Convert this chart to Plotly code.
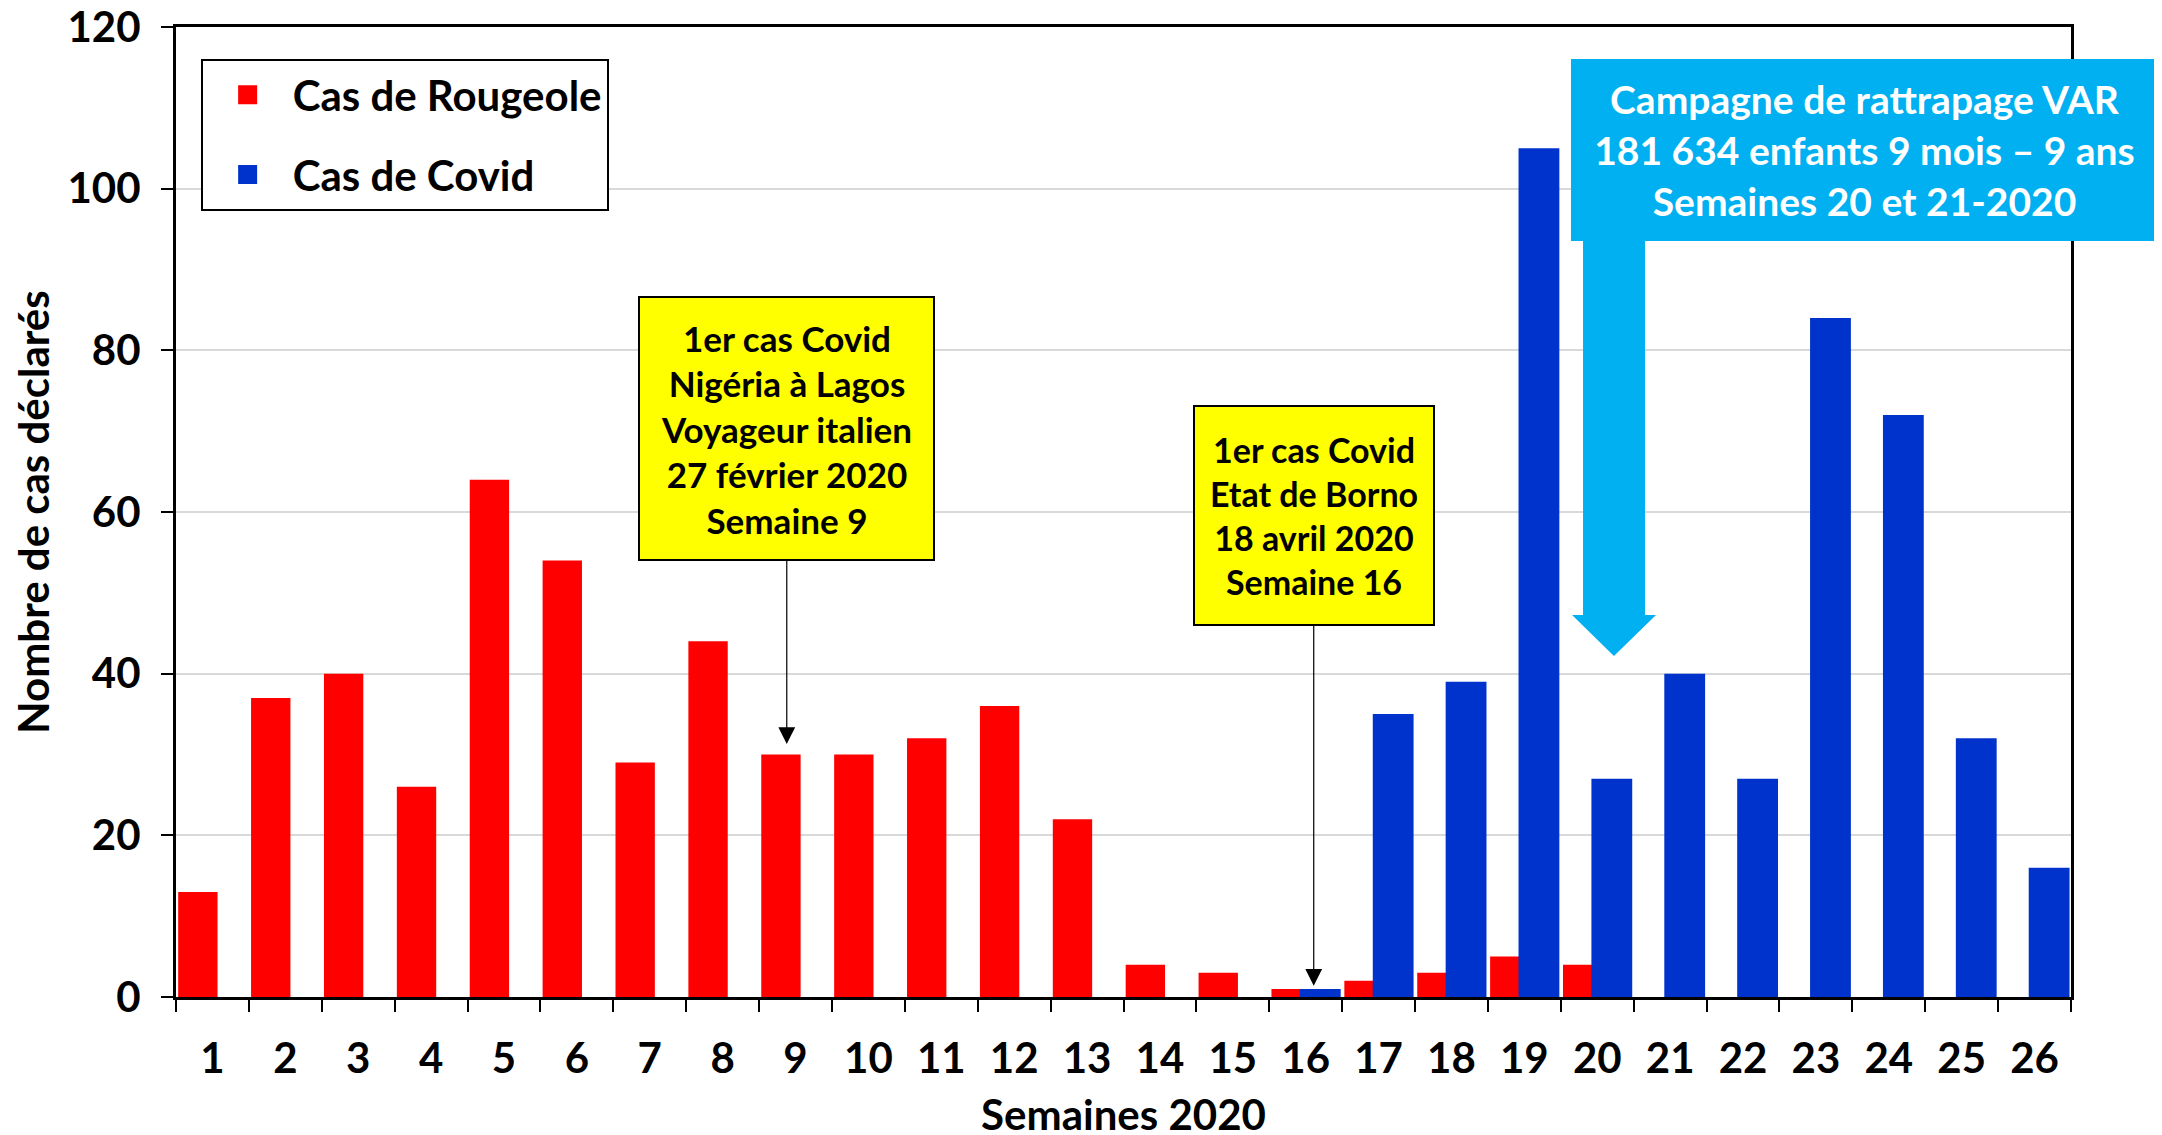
import plotly.graph_objects as go

weeks = [str(w) for w in range(1, 27)]
rougeole = [13, 37, 40, 26, 64, 54, 29, 44, 30, 30, 32, 36, 22,
            4, 3, 1, 2, 3, 5, 4, 0, 0, 0, 0, 0, 0]
covid = [0, 0, 0, 0, 0, 0, 0, 0, 0, 0, 0, 0, 0, 0, 0,
         1, 35, 39, 105, 27, 40, 27, 84, 72, 32, 16]
y_ticks = [0, 20, 40, 60, 80, 100, 120]

RED = '#FF0000'
BLUE = '#0033CC'
CYAN = '#00B0F0'
FONT = 'Lato'

fig = go.Figure()
fig.add_trace(go.Bar(x=weeks, y=rougeole, name='Cas de Rougeole',
                     marker=dict(color=RED, line_width=0),
                     offset=-0.47, width=0.54, showlegend=False))
fig.add_trace(go.Bar(x=weeks, y=covid, name='Cas de Covid',
                     marker=dict(color=BLUE, line_width=0),
                     offset=-0.08, width=0.56, showlegend=False))

# legend entries with bigger square swatches than the bar default
for name, color in [('Cas de Rougeole', RED), ('Cas de Covid', BLUE)]:
    fig.add_trace(go.Scatter(x=[None], y=[None], mode='markers', name=name,
                             legendgroup=name,
                             marker=dict(symbol='square', size=16, color=color,
                                         line=dict(color=color, width=3))))

box = dict(xref='x', yref='y', axref='pixel', ayref='pixel',
           showarrow=True, arrowhead=2, arrowsize=2.8, arrowwidth=1.2,
           arrowcolor='black', bgcolor='#FFFF00', bordercolor='black',
           borderwidth=2, borderpad=6, align='center', valign='middle')

# campaign arrow (paper coords), drawn under the cyan box
sl, sr, hl, hr, tip = 0.7425, 0.7752, 0.7367, 0.7810, 0.7588
ytop, ysb, ytip = 0.80, 0.3938, 0.3515
arrow_path = (f'M {sl},{ytop} L {sl},{ysb} L {hl},{ysb} L {tip},{ytip} '
              f'L {hr},{ysb} L {sr},{ysb} L {sr},{ytop} Z')

fig.update_layout(
    width=2162, height=1135,
    margin=dict(l=168, r=99, t=19, b=146, autoexpand=False),
    plot_bgcolor='white', paper_bgcolor='white',
    barmode='overlay',
    font=dict(family=FONT, color='black', weight='bold'),
    legend=dict(x=0.013, y=0.967, xanchor='left', yanchor='top',
                bgcolor='white', bordercolor='black', borderwidth=2,
                font=dict(family=FONT, size=42, weight='bold'),
                itemwidth=80, tracegroupgap=22),
    xaxis=dict(type='category', range=[-0.5, 25.5], automargin=False,
               tickson='boundaries', ticks='outside', ticklen=12,
               tickwidth=2, tickcolor='black', showgrid=False,
               showline=True, linecolor='black', linewidth=3, mirror=True,
               tickfont=dict(family=FONT, size=42, weight='bold'),
               ticklabelstandoff=23,
               title=dict(text='Semaines 2020', standoff=20,
                          font=dict(family=FONT, size=42, weight='bold'))),
    yaxis=dict(range=[0, 120], tickmode='array', tickvals=y_ticks,
               ticks='outside', ticklen=12, automargin=False,
               ticklabeloverflow='allow',
               tickwidth=2, tickcolor='black', showgrid=True,
               gridcolor='#D9D9D9', gridwidth=2, zeroline=False,
               showline=True, linecolor='black', linewidth=3, mirror=True,
               tickfont=dict(family=FONT, size=42, weight='bold'),
               ticklabelstandoff=12,
               title=dict(text='Nombre de cas déclarés', standoff=16,
                          font=dict(family=FONT, size=42, weight='bold'))),
    shapes=[dict(type='path', xref='paper', yref='paper', path=arrow_path,
                 fillcolor=CYAN, line=dict(width=0), layer='above')],
    annotations=[
        dict(box, x=7.88, y=31.3, ax=0, ay=-315, width=281, height=249,
             font=dict(family=FONT, size=35, color='black', weight='bold'),
             text='1er cas Covid<br>Nigéria à Lagos<br>Voyageur italien'
                  '<br>27 février 2020<br>Semaine 9'),
        dict(box, x=15.11, y=1.4, ax=0, ay=-470, width=226, height=205,
             font=dict(family=FONT, size=34, color='black', weight='bold'),
             text='1er cas Covid<br>Etat de Borno<br>18 avril 2020'
                  '<br>Semaine 16'),
        dict(xref='paper', yref='paper', x=0.891, y=0.873,
             xanchor='center', yanchor='middle',
             showarrow=False, bgcolor=CYAN, borderwidth=0, borderpad=0,
             width=587, height=182, align='center', valign='middle',
             font=dict(family=FONT, size=39, color='white', weight='bold'),
             text='Campagne de rattrapage VAR<br>181 634 enfants 9 mois – 9 ans'
                  '<br>Semaines 20 et 21-2020'),
    ],
)

fig.write_html('out.html')
